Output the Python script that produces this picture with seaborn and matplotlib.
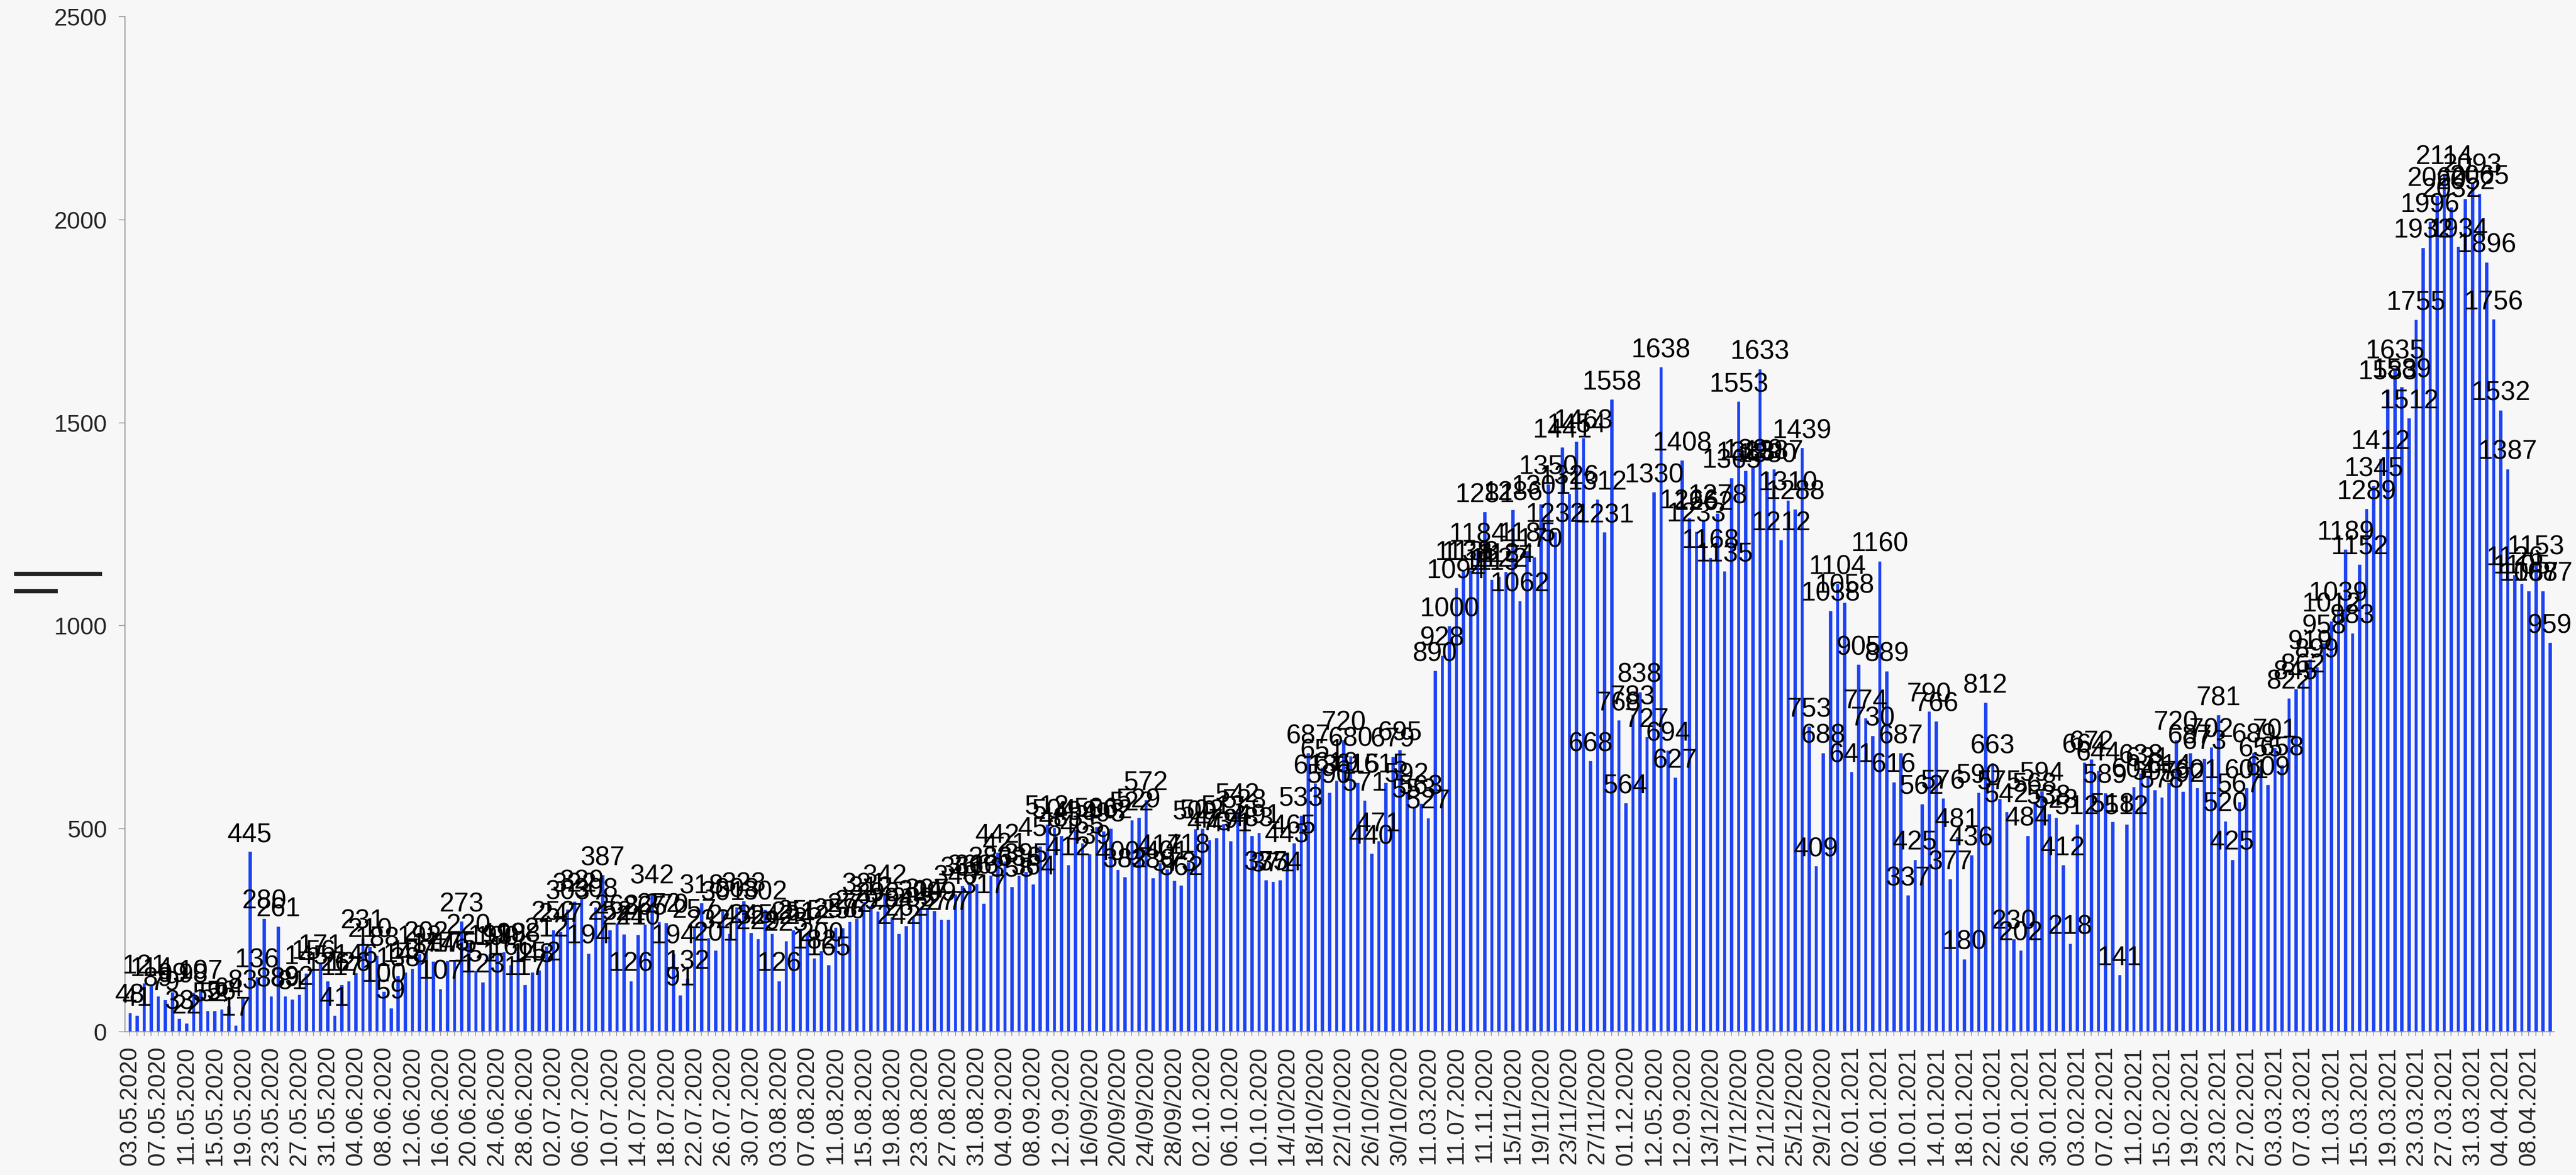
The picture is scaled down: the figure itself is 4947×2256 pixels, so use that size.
import numpy as np
import pandas as pd
import matplotlib
matplotlib.use("Agg")
import matplotlib.pyplot as plt
from matplotlib.lines import Line2D
import seaborn as sns

# daily values, 03.05.2020 -> 11.04.2021
daily_cases = [
    48, 41, 121, 114, 89, 79, 99, 33, 22, 98,
    107, 52, 52, 56, 64, 17, 83, 445, 136, 280,
    88, 261, 89, 81, 92, 145, 156, 171, 126, 41,
    117, 126, 146, 231, 210, 188, 100, 59, 138, 148,
    157, 192, 202, 174, 107, 176, 175, 273, 220, 151,
    123, 193, 190, 198, 166, 198, 117, 148, 152, 212,
    252, 247, 303, 322, 329, 194, 308, 387, 252, 268,
    241, 126, 240, 265, 342, 272, 270, 194, 91, 132,
    257, 318, 232, 201, 301, 243, 308, 323, 245, 229,
    302, 242, 126, 225, 251, 255, 242, 182, 200, 165,
    258, 256, 272, 279, 321, 312, 298, 342, 284, 242,
    262, 285, 304, 307, 299, 277, 277, 340, 361, 366,
    366, 317, 386, 442, 421, 358, 386, 395, 364, 458,
    512, 504, 483, 412, 499, 465, 439, 506, 495, 502,
    400, 382, 522, 529, 572, 380, 417, 401, 373, 362,
    418, 500, 502, 473, 479, 513, 471, 542, 528, 483,
    491, 375, 371, 374, 443, 465, 533, 687, 613, 651,
    590, 619, 720, 680, 615, 571, 440, 471, 615, 679,
    695, 592, 553, 563, 527, 890, 928, 1000, 1094, 1138,
    1138, 1184, 1281, 1115, 1122, 1134, 1286, 1062, 1185, 1170,
    1301, 1350, 1232, 1441, 1326, 1454, 1463, 668, 1312, 1231,
    1558, 768, 564, 783, 838, 727, 1330, 1638, 694, 627,
    1408, 1266, 1233, 1262, 1168, 1278, 1135, 1365, 1553, 1383,
    1390, 1633, 1380, 1387, 1212, 1310, 1288, 1439, 753, 409,
    688, 1038, 1104, 1058, 641, 905, 774, 730, 1160, 889,
    616, 687, 337, 425, 562, 790, 766, 576, 377, 481,
    180, 436, 590, 812, 663, 575, 542, 230, 202, 484,
    568, 594, 538, 528, 412, 218, 512, 664, 672, 644,
    589, 518, 141, 512, 604, 638, 631, 597, 578, 614,
    720, 592, 687, 601, 673, 702, 781, 520, 425, 567,
    601, 689, 655, 609, 701, 658, 822, 845, 862, 919,
    899, 958, 1012, 1039, 1189, 983, 1152, 1289, 1345, 1412,
    1583, 1635, 1589, 1512, 1755, 1932, 1996, 2060, 2114, 2032,
    1934, 2052, 2093, 2065, 1896, 1756, 1532, 1387, 1126, 1105,
    1087, 1153, 1087, 959,
]

# every 4th day is labelled, text exactly as on the axis
date_labels = [
    "03.05.2020", "07.05.2020", "11.05.2020", "15.05.2020", "19.05.2020",
    "23.05.2020", "27.05.2020", "31.05.2020", "04.06.2020", "08.06.2020",
    "12.06.2020", "16.06.2020", "20.06.2020", "24.06.2020", "28.06.2020",
    "02.07.2020", "06.07.2020", "10.07.2020", "14.07.2020", "18.07.2020",
    "22.07.2020", "26.07.2020", "30.07.2020", "03.08.2020", "07.08.2020",
    "11.08.2020", "15.08.2020", "19.08.2020", "23.08.2020", "27.08.2020",
    "31.08.2020", "04.09.2020", "08.09.2020", "12.09.2020", "16/09/2020",
    "20/09/2020", "24/09/2020", "28/09/2020", "02.10.2020", "06.10.2020",
    "10.10.2020", "14/10/2020", "18/10/2020", "22/10/2020", "26/10/2020",
    "30/10/2020", "11.03.2020", "11.07.2020", "11.11.2020", "15/11/2020",
    "19/11/2020", "23/11/2020", "27/11/2020", "01.12.2020", "12.05.2020",
    "12.09.2020", "13/12/2020", "17/12/2020", "21/12/2020", "25/12/2020",
    "29/12/2020", "02.01.2021", "06.01.2021", "10.01.2021", "14.01.2021",
    "18.01.2021", "22.01.2021", "26.01.2021", "30.01.2021", "03.02.2021",
    "07.02.2021", "11.02.2021", "15.02.2021", "19.02.2021", "23.02.2021",
    "27.02.2021", "03.03.2021", "07.03.2021", "11.03.2021", "15.03.2021",
    "19.03.2021", "23.03.2021", "27.03.2021", "31.03.2021", "04.04.2021",
    "08.04.2021",
]
label_step = 4
y_ticks = [0, 500, 1000, 1500, 2000, 2500]

df = pd.DataFrame({"day": np.arange(len(daily_cases)), "cases": daily_cases})

sns.set_theme(style="ticks")
plt.rcParams["font.family"] = ["Liberation Sans", "DejaVu Sans"]

bg = "#f7f7f7"
fig = plt.figure(figsize=(49.47, 22.56), dpi=100, facecolor=bg)
ax = fig.add_axes([0.0485, 0.1219, 0.943, 0.8639])
ax.set_facecolor(bg)

sns.barplot(data=df, x="day", y="cases", color="#1c42f2", saturation=1,
            width=0.56, ax=ax)
ax.bar_label(ax.containers[0], fontsize=37, padding=5, color="black")

ax.set_ylim(0, 2500)
ax.set_yticks(y_ticks)
ax.set_xlim(-0.7, len(daily_cases) - 0.4)
ax.set_xticks(np.arange(len(daily_cases)), minor=True)
ax.set_xticks(np.arange(0, len(date_labels) * label_step, label_step))
ax.set_xticklabels(date_labels, rotation=90)
ax.set_xlabel("")
ax.set_ylabel("")

ax.tick_params(axis="x", which="both", length=6, width=1.2, color="#999999",
               labelsize=33, pad=14)
ax.tick_params(axis="y", length=9, width=1.2, color="#999999",
               labelsize=33, pad=16)
for side in ["top", "right"]:
    ax.spines[side].set_visible(False)
for side in ["left", "bottom"]:
    ax.spines[side].set_color("#999999")
    ax.spines[side].set_linewidth(1.5)

# the two short dark strokes at the left edge
fig.add_artist(Line2D([0.0055, 0.0396], [0.5115, 0.5115], color="#222222",
                      linewidth=6, solid_capstyle="butt"))
fig.add_artist(Line2D([0.0055, 0.0224], [0.4969, 0.4969], color="#222222",
                      linewidth=6, solid_capstyle="butt"))

fig.savefig("out.png", dpi=100, facecolor=bg)
